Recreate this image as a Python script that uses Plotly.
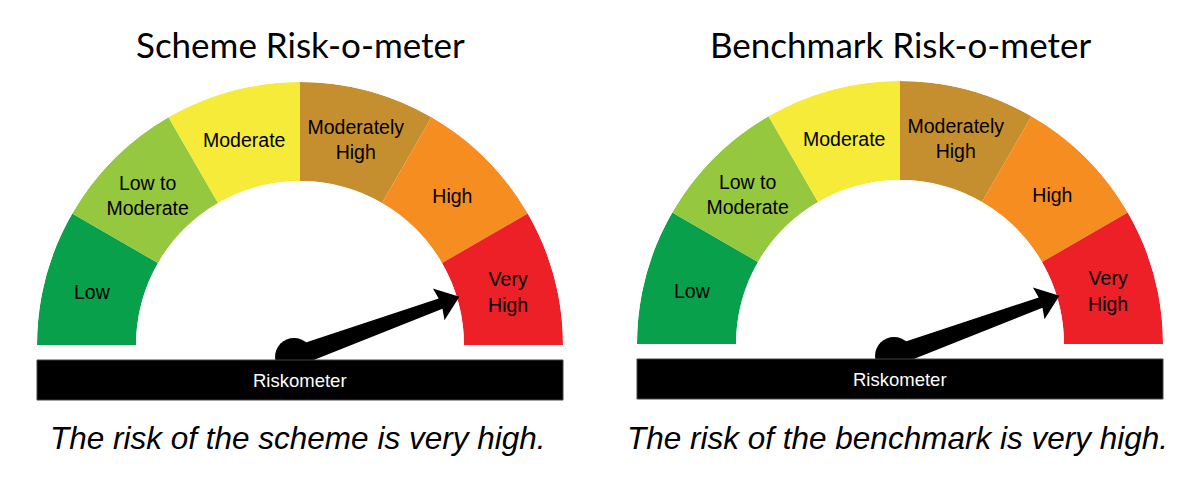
import math
import plotly.graph_objects as go

# ---- data ----
risk_levels = ["Low", "Low to<br>Moderate", "Moderate", "Moderately<br>High", "High", "Very<br>High"]
segment_colors = ["#08a04b", "#95c83f", "#f6eb39", "#c58f2f", "#f68d20", "#ed1f27"]
segment_width_deg = [30, 30, 30, 30, 30, 30]
gauge_titles = ["Scheme Risk-o-meter", "Benchmark Risk-o-meter"]
gauge_captions = ["The risk of the scheme is very high.", "The risk of the benchmark is very high."]
needle_angle_deg = [20, 20]          # needle direction, degrees from the right (Very High side)
band_label = "Riskometer"

# ---- layout constants (pixels) ----
W, H = 1200, 483
centers = [(300, 345), (900, 344)]
R_OUT, R_IN = 263, 164
LABEL_DROP = 5

fig = go.Figure()

mids = []
start = 180
for w in segment_width_deg:
    mids.append(start - w / 2)
    start -= w


def polar_cfg(cx, cy):
    return dict(
        domain=dict(x=[(cx - R_OUT) / W, (cx + R_OUT) / W],
                    y=[(H - cy) / H, (H - cy + R_OUT) / H]),
        sector=[0, 180], hole=R_IN / R_OUT, bgcolor="rgba(0,0,0,0)",
        radialaxis=dict(visible=False, range=[0, 1]),
        angularaxis=dict(visible=False, direction="counterclockwise", rotation=0),
        bargap=0)


for gi, (cx, cy) in enumerate(centers):
    pid = "polar" if gi == 0 else "polar2"
    lid = "polar3" if gi == 0 else "polar4"
    fig.add_trace(go.Barpolar(
        r=[1] * len(risk_levels), theta=mids, width=segment_width_deg,
        marker=dict(color=segment_colors, line=dict(width=0)),
        subplot=pid, hoverinfo="skip", showlegend=False))
    fig.add_trace(go.Scatterpolar(
        r=[0.52] * len(risk_levels), theta=mids, mode="text", text=risk_levels,
        textfont=dict(family="Liberation Sans, Arial", size=19.5, color="black"),
        subplot=lid, hoverinfo="skip", showlegend=False))
    fig.layout[pid] = polar_cfg(cx, cy)
    fig.layout[lid] = polar_cfg(cx, cy + LABEL_DROP)

fig.add_trace(go.Scatter(x=[0, W], y=[0, H], mode="markers", marker=dict(opacity=0),
                         hoverinfo="skip", showlegend=False))

shapes = []
annotations = []
for gi, (cx, cy) in enumerate(centers):
    px, py = cx - 6, cy + 12
    a = math.radians(needle_angle_deg[gi])
    ux, uy = math.cos(a), -math.sin(a)
    nx, ny = -uy, ux
    L, base = 176, 156
    w0, w1, hw = 10, 5.5, 17
    pts = [
        (px + nx * w0, py + ny * w0),
        (px + ux * base + nx * w1, py + uy * base + ny * w1),
        (px + ux * (base - 2) + nx * hw, py + uy * (base - 2) + ny * hw),
        (px + ux * L, py + uy * L),
        (px + ux * (base - 2) - nx * hw, py + uy * (base - 2) - ny * hw),
        (px + ux * base - nx * w1, py + uy * base - ny * w1),
        (px - nx * w0, py - ny * w0),
    ]
    path = "M " + " L ".join(f"{x:.1f},{y:.1f}" for x, y in pts) + " Z"
    shapes.append(dict(type="path", path=path, xref="x", yref="y",
                       fillcolor="black", line=dict(width=0)))
    rp = 19
    shapes.append(dict(type="circle", xref="x", yref="y", x0=px - rp, x1=px + rp,
                       y0=py - rp, y1=py + rp, fillcolor="black", line=dict(width=0)))
    shapes.append(dict(type="rect", xref="x", yref="y", x0=cx - R_OUT, x1=cx + R_OUT,
                       y0=cy + 15, y1=cy + 55, fillcolor="black",
                       line=dict(width=1, color="#444")))
    annotations.append(dict(x=cx, y=cy + 35, xref="x", yref="y", text=band_label,
                            showarrow=False, font=dict(family="Liberation Sans, Arial",
                                                       size=18.5, color="white")))
    annotations.append(dict(x=cx, y=44, xref="x", yref="y", text=gauge_titles[gi],
                            showarrow=False, font=dict(family="Lato", size=35, color="black")))
    annotations.append(dict(x=cx - 3, y=438, xref="x", yref="y", text=f"<i>{gauge_captions[gi]}</i>",
                            showarrow=False, font=dict(family="Liberation Sans, Arial",
                                                       size=31.5, color="black")))

fig.update_layout(
    width=W, height=H, margin=dict(l=0, r=0, t=0, b=0),
    paper_bgcolor="white", plot_bgcolor="rgba(0,0,0,0)",
    xaxis=dict(range=[0, W], visible=False, domain=[0, 1], fixedrange=True),
    yaxis=dict(range=[H, 0], visible=False, domain=[0, 1], fixedrange=True),
    shapes=shapes, annotations=annotations, showlegend=False)

fig.write_html("out.html", config={"displayModeBar": False, "staticPlot": True},
               post_script="document.body.style.margin='0';document.body.style.overflow='hidden';")
